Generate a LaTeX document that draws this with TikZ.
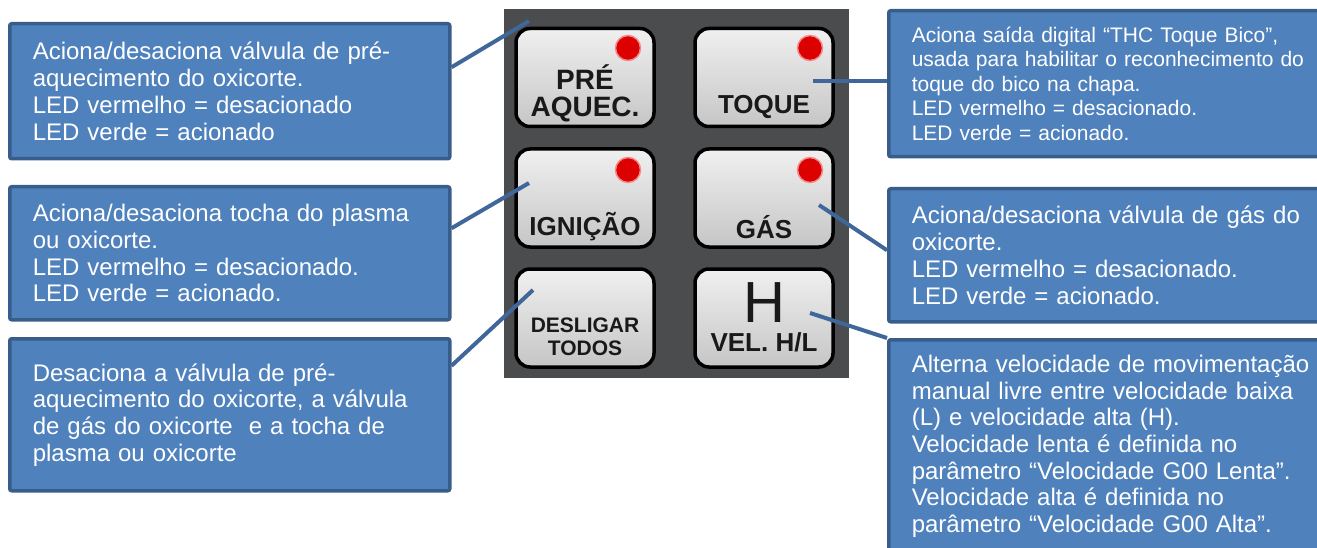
\documentclass[tikz,border=0pt]{standalone}
\usepackage{fontspec}
\setmainfont{Liberation Sans}
\usetikzlibrary{positioning}

\definecolor{boxfill}{HTML}{4F81BD}
\definecolor{boxline}{HTML}{385D8A}
\definecolor{linkcol}{HTML}{3F679A}
\definecolor{panelgray}{HTML}{4A4C4E}
\definecolor{ledred}{HTML}{DD0000}

\begin{document}
\begin{tikzpicture}[
  x=1pt, y=-1pt,
  callout/.style={draw=boxline, fill=boxfill, line width=3.5pt, rounded corners=2pt, anchor=north west,
    align=left, text=white, inner xsep=23pt, inner ysep=0pt, font=\fontsize{24}{26.7}\selectfont},
  leftbox/.style={callout, text width=394pt, minimum width=440pt},
  rightbox/.style={callout, text width=414pt, minimum width=460pt},
  btn/.style={draw=black, line width=3.5pt, rounded corners=14pt, top color=gray!12, bottom color=gray!45,
    minimum width=138pt, minimum height=98pt},
  key/.style={font=\bfseries\fontsize{26}{24}\selectfont, text=black!90, align=center, inner sep=0pt},
  led/.style={circle, fill=ledred, draw=ledred!45!white, line width=1.5pt, minimum size=25pt, inner sep=0pt},
  link/.style={draw=linkcol, line width=4pt}
]
\useasboundingbox (0,0) rectangle (1317,548);
\clip (0,0) rectangle (1317,548);

\fill[panelgray] (504,9) rectangle (849,378);

\node[btn] (bPre) at (585,77.5) {};
\node[btn] (bToq) at (764,77.5) {};
\node[btn] (bIgn) at (585,198) {};
\node[btn] (bGas) at (764,198) {};
\node[btn] (bDes) at (585,318) {};
\node[btn] (bVel) at (764,318) {};

\node[led] (lPre) at ([xshift=43pt,yshift=29.5pt]bPre.center) {};
\node[led] (lToq) at ([xshift=46pt,yshift=29.5pt]bToq.center) {};
\node[led] (lIgn) at ([xshift=43pt,yshift=28pt]bIgn.center) {};
\node[led] (lGas) at ([xshift=46pt,yshift=28pt]bGas.center) {};

\node[key, font=\bfseries\fontsize{28}{27}\selectfont] (kPre) at ([yshift=-16pt]bPre.center) {PRÉ\\AQUEC.};
\node[key] (kToq) at ([yshift=-29.5pt]bToq.center) {TOQUE};
\node[key] (kIgn) at ([yshift=-29pt]bIgn.center) {IGNIÇÃO};
\node[key] (kGas) at ([yshift=-29pt]bGas.center) {GÁS};
\node[key, font=\bfseries\fontsize{21}{23}\selectfont] (kDes) at ([yshift=-18.5pt]bDes.center) {DESLIGAR\\TODOS};
\node[key] (kVel) at ([yshift=-24pt]bVel.center) {VEL. H/L};
\node[key, font=\fontsize{58}{58}\selectfont] (kH) at ([yshift=15pt]bVel.center) {H};

\node[leftbox, minimum height=135pt] (nPre) at (8,22)
  {Aciona/desaciona válvula de pré-\\aquecimento do oxicorte.\\LED vermelho = desacionado\\LED verde = acionado};
\node[leftbox, minimum height=133pt] (nIgn) at (8,185)
  {Aciona/desaciona tocha do plasma\\ou oxicorte.\\LED vermelho = desacionado.\\LED verde = acionado.};
\node[leftbox, minimum height=152pt] (nDes) at (8,337)
  {Desaciona a válvula de pré-\\aquecimento do oxicorte, a válvula\\de gás do oxicorte\ \ e a tocha de\\plasma ou oxicorte};
\node[rightbox, minimum height=146pt, font=\fontsize{21}{24.6}\selectfont] (nToq) at (887,9)
  {Aciona saída digital “THC Toque Bico”,\\usada para habilitar o reconhecimento do\\toque do bico na chapa.\\LED vermelho = desacionado.\\LED verde = acionado.};
\node[rightbox, minimum height=133pt] (nGas) at (887,187)
  {Aciona/desaciona válvula de gás do\\oxicorte.\\LED vermelho = desacionado.\\LED verde = acionado.};
\node[rightbox, minimum height=213pt] (nVel) at (887,338)
  {Alterna velocidade de movimentação\\manual livre entre velocidade baixa\\(L) e velocidade alta (H).\\Velocidade lenta é definida no\\parâmetro “Velocidade G00 Lenta”.\\Velocidade alta é definida no\\parâmetro “Velocidade G00 Alta”.};

\coordinate (pPre) at (529,21);
\coordinate (pIgn) at (529,183);
\coordinate (pDes) at (533,290);
\coordinate (pToq) at (813,81);
\coordinate (pGas) at (819,205);
\coordinate (pVel) at (810,313);

\draw[link] ([yshift=24pt]nPre.east) -- (pPre);
\draw[link] ([yshift=25pt]nIgn.east) -- (pIgn);
\draw[link] ([yshift=49pt]nDes.east) -- (pDes);
\draw[link] (nToq.west |- pToq) -- (pToq);
\draw[link] ([yshift=5pt]nGas.west) -- (pGas);
\draw[link] (nVel.north west) -- (pVel);
\end{tikzpicture}
\end{document}
